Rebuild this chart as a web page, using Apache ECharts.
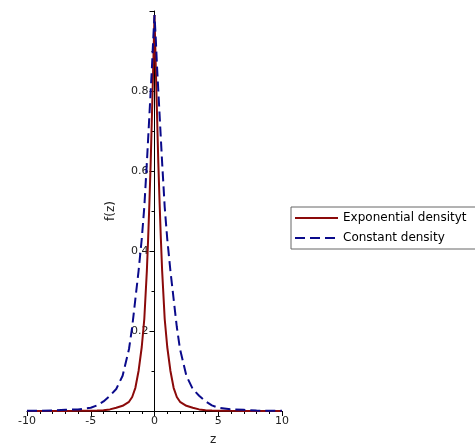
<!DOCTYPE html>
<html>
<head>
<meta charset="utf-8">
<script src="https://cdn.jsdelivr.net/npm/echarts@6/dist/echarts.min.js"></script>
<style>
html,body{margin:0;padding:0;background:#fff;}
#chart{width:475px;height:443px;}
</style>
</head>
<body>
<div id="chart"></div>
<script>
// z grid (symmetric)
const zValues = [-10, -8, -7, -6, -5, -4.5, -4, -3.5, -3, -2.5, -2, -1.75, -1.5, -1.25, -1, -0.8, -0.6, -0.5, -0.4, -0.3, -0.2, -0.1, 0,
                 0.1, 0.2, 0.3, 0.4, 0.5, 0.6, 0.8, 1, 1.25, 1.5, 1.75, 2, 2.5, 3, 3.5, 4, 4.5, 5, 6, 7, 8, 10];
const expDensity = [0, 0.0001, 0.0002, 0.0004, 0.0008, 0.001, 0.002, 0.004, 0.008, 0.013, 0.023, 0.035, 0.058, 0.10, 0.16, 0.23, 0.35, 0.43, 0.52, 0.62, 0.74, 0.86, 0.99,
                    0.86, 0.74, 0.62, 0.52, 0.43, 0.35, 0.23, 0.16, 0.10, 0.058, 0.035, 0.023, 0.013, 0.008, 0.004, 0.002, 0.001, 0.0008, 0.0004, 0.0002, 0.0001, 0];
const constDensity = [0.0005, 0.001, 0.003, 0.004, 0.008, 0.014, 0.024, 0.038, 0.055, 0.088, 0.155, 0.21, 0.28, 0.35, 0.43, 0.51, 0.62, 0.68, 0.74, 0.80, 0.86, 0.93, 0.99,
                      0.93, 0.86, 0.80, 0.74, 0.68, 0.62, 0.51, 0.43, 0.35, 0.28, 0.21, 0.155, 0.088, 0.055, 0.038, 0.024, 0.014, 0.008, 0.004, 0.003, 0.001, 0.0005];
const seriesNames = ['Exponential densityt', 'Constant density'];
const yLabelValues = [0.2, 0.4, 0.6, 0.8];

const pairs = (ys) => zValues.map((z, i) => [z, ys[i]]);

const chart = echarts.init(document.getElementById('chart'), null, {renderer: 'canvas'});
const font = 'DejaVu Sans';
const gridLeft = 27, gridRight = 193;
const plotW = 475 - gridLeft - gridRight;
chart.setOption({
  animation: false,
  grid: {left: gridLeft, right: gridRight, top: 11, bottom: 32, containLabel: false, outerBoundsMode: 'none'},
  xAxis: {
    type: 'value', min: -10, max: 10, interval: 5,
    axisLine: {onZero: true, lineStyle: {color: '#000', width: 1}},
    axisTick: {show: true, length: 5, lineStyle: {color: '#000'}},
    minorTick: {show: true, splitNumber: 5, length: 3, lineStyle: {color: '#000'}},
    splitLine: {show: false},
    axisLabel: {color: '#222', fontFamily: font, fontSize: 11, margin: 5}
  },
  yAxis: {
    type: 'value', min: 0, max: 1, interval: 0.2,
    offset: -plotW / 2,
    name: 'f(z)', nameLocation: 'middle', nameGap: 38,
    nameTextStyle: {color: '#222', fontFamily: font, fontSize: 12},
    axisLine: {show: true, onZero: false, lineStyle: {color: '#000', width: 1}},
    axisTick: {show: true, length: 5, lineStyle: {color: '#000'}},
    minorTick: {show: true, splitNumber: 2, length: 3, lineStyle: {color: '#000'}},
    splitLine: {show: false},
    axisLabel: {
      color: '#222', fontFamily: font, fontSize: 11, margin: 6,
      formatter: (v) => yLabelValues.some(t => Math.abs(t - v) < 1e-9) ? v.toFixed(1) : ''
    }
  },
  legend: {
    orient: 'vertical', left: 291, top: 207,
    itemWidth: 43, itemHeight: 12, itemGap: 8,
    padding: [5, 40, 5, 3],
    borderColor: '#666', borderWidth: 1,
    itemStyle: {opacity: 0},
    textStyle: {color: '#000', fontFamily: font, fontSize: 12},
    data: seriesNames
  },
  graphic: [{
    type: 'text', left: 210, top: 434,
    style: {text: 'z', fill: '#222', font: '12px "DejaVu Sans"'}
  }],
  series: [
    {
      name: seriesNames[0], type: 'line', data: pairs(expDensity),
      showSymbol: false, symbol: 'none', smooth: false,
      lineStyle: {color: '#8b0a0a', width: 2},
      itemStyle: {color: '#8b0a0a'}
    },
    {
      name: seriesNames[1], type: 'line', data: pairs(constDensity),
      showSymbol: false, symbol: 'none', smooth: false,
      lineStyle: {color: '#0a0a8b', width: 2, type: [10, 5]},
      itemStyle: {color: '#0a0a8b'}
    }
  ]
});
</script>
</body>
</html>
